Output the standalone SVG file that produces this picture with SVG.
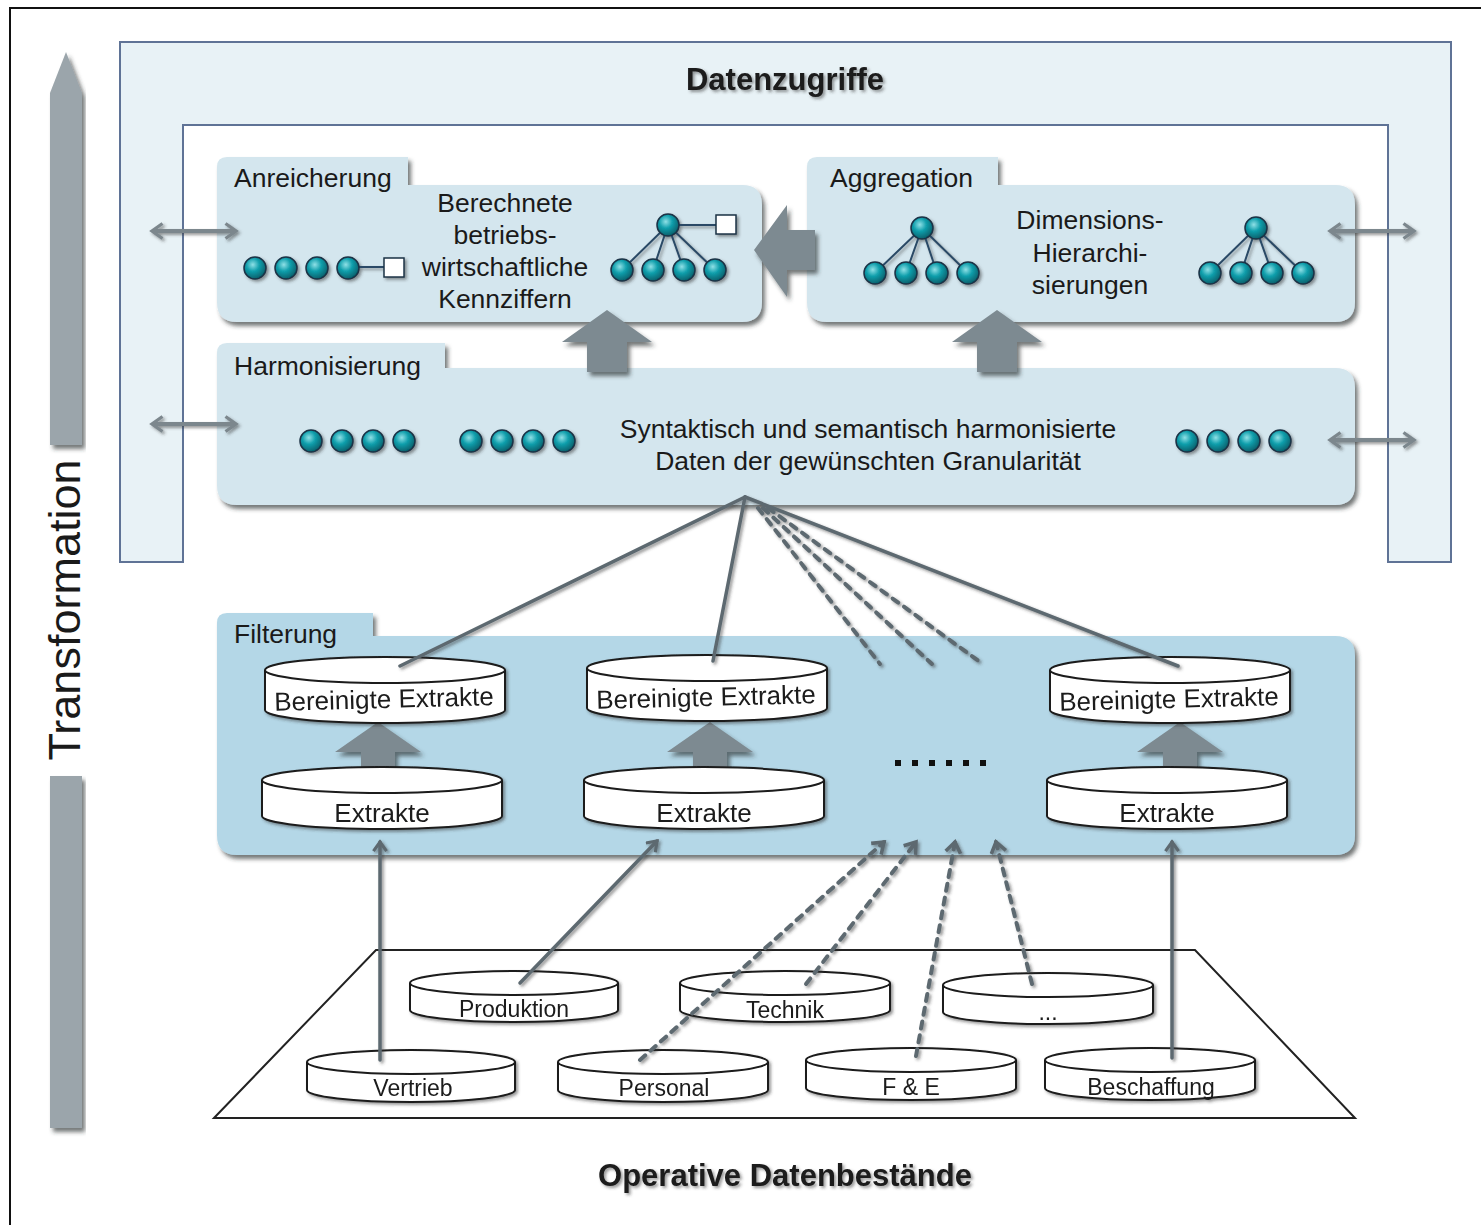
<svg xmlns="http://www.w3.org/2000/svg" width="1481" height="1225" viewBox="0 0 1481 1225">
<defs>
<style>
text{font-family:"Liberation Sans",Arial,sans-serif;fill:#1a1a1a}
.lbl{font-size:26.5px}
.mid{font-size:26.5px;text-anchor:middle}
.cyl{font-size:26px;text-anchor:middle}
.db{font-size:23px;text-anchor:middle}
.title{font-size:31px;font-weight:bold;text-anchor:middle}
.box{fill:#d4e6ee}
.fbox{fill:#b4d7e7}
.dot{fill:url(#tg);stroke:#1b3346;stroke-width:1.5}
.sq{fill:#fff;stroke:#1b3346;stroke-width:1.5}
.tl{stroke:#2a4a66;stroke-width:2;fill:none}
.big{fill:#7d8a91}
.cb{fill:#fff;stroke:#1a1a1a;stroke-width:2}
.sol{stroke:#5d6970;stroke-width:3.5;fill:none;stroke-linecap:round}
.dsh{stroke:#5d6970;stroke-width:4;fill:none;stroke-dasharray:7 7;stroke-linecap:round}
.dbl{stroke:#7c878d;stroke-width:4;fill:none;marker-start:url(#chev);marker-end:url(#chev)}
</style>
<radialGradient id="tg" cx="40%" cy="35%" r="65%">
<stop offset="0" stop-color="#8fe0e6"/>
<stop offset="0.45" stop-color="#12a0ad"/>
<stop offset="1" stop-color="#05606c"/>
</radialGradient>
<filter id="sh" x="-5%" y="-10%" width="115%" height="130%">
<feDropShadow dx="3" dy="4" stdDeviation="2" flood-color="#2a2f33" flood-opacity="0.65"/>
</filter>
<filter id="ls" x="-20%" y="-20%" width="140%" height="140%">
<feDropShadow dx="2" dy="2" stdDeviation="1.5" flood-color="#333" flood-opacity="0.5"/>
</filter>
<marker id="chev" viewBox="0 0 10 12" refX="8" refY="6" markerWidth="4" markerHeight="4.5" orient="auto-start-reverse" markerUnits="strokeWidth">
<path d="M1,1 L8,6 L1,11" fill="none" stroke="#7c878d" stroke-width="2.2"/>
</marker>
<marker id="up" viewBox="0 0 10 12" refX="8" refY="6" markerWidth="4" markerHeight="4.5" orient="auto" markerUnits="strokeWidth">
<path d="M1,1 L8,6 L1,11" fill="none" stroke="#5d6970" stroke-width="2.4"/>
</marker>
</defs>

<rect x="10" y="8" width="1480" height="1230" fill="#fff" stroke="#111" stroke-width="2"/>

<g id="transformation">
<path d="M50,93 L66,52 L82,93 L82,445 L50,445 Z" fill="#9ba5ab" filter="url(#sh)"/>
<rect x="50" y="776" width="32" height="352" fill="#9ba5ab" filter="url(#sh)"/>
<text transform="translate(80,610) rotate(-90)" style="font-size:45px;text-anchor:middle">Transformation</text>
</g>

<g id="datenzugriffe">
<path d="M120,42 L1451,42 L1451,562 L1388,562 L1388,125 L183,125 L183,562 L120,562 Z" fill="#e8f2f6" stroke="#5f7396" stroke-width="2"/>
<text x="785" y="90" class="title" filter="url(#ls)">Datenzugriffe</text>
</g>

<g id="anreicherung">
<path class="box" filter="url(#sh)" d="M217,167 Q217,157 227,157 L408,157 L408,185 L742,185 Q762,185 762,205 L762,302 Q762,322 742,322 L237,322 Q217,322 217,302 Z"/>
<text x="234" y="187" class="lbl">Anreicherung</text>
<text x="505" y="212" class="mid">Berechnete</text>
<text x="505" y="244" class="mid">betriebs-</text>
<text x="505" y="276" class="mid">wirtschaftliche</text>
<text x="505" y="308" class="mid">Kennziffern</text>
<g filter="url(#ls)">
<line x1="348" y1="267" x2="393" y2="267" class="tl"/>
<circle cx="255" cy="268" r="11" class="dot"/>
<circle cx="286" cy="268" r="11" class="dot"/>
<circle cx="317" cy="268" r="11" class="dot"/>
<circle cx="348" cy="268" r="11" class="dot"/>
<rect x="384" y="258" width="20" height="19" class="sq"/>
<path class="tl" d="M668,225 L622,270 M668,225 L653,270 M668,225 L684,270 M668,225 L715,270 M668,225 L726,225"/>
<circle cx="668" cy="225" r="11" class="dot"/>
<circle cx="622" cy="270" r="11" class="dot"/>
<circle cx="653" cy="270" r="11" class="dot"/>
<circle cx="684" cy="270" r="11" class="dot"/>
<circle cx="715" cy="270" r="11" class="dot"/>
<rect x="716" y="215" width="20" height="19" class="sq"/>
</g>
</g>

<g id="aggregation">
<path class="box" filter="url(#sh)" d="M807,167 Q807,157 817,157 L998,157 L998,185 L1335,185 Q1355,185 1355,205 L1355,302 Q1355,322 1335,322 L827,322 Q807,322 807,302 Z"/>
<text x="830" y="187" class="lbl">Aggregation</text>
<text x="1090" y="229" class="mid">Dimensions-</text>
<text x="1090" y="262" class="mid">Hierarchi-</text>
<text x="1090" y="294" class="mid">sierungen</text>
<g filter="url(#ls)">
<path class="tl" d="M922,228 L875,273 M922,228 L906,273 M922,228 L937,273 M922,228 L968,273"/>
<circle cx="922" cy="228" r="11" class="dot"/>
<circle cx="875" cy="273" r="11" class="dot"/>
<circle cx="906" cy="273" r="11" class="dot"/>
<circle cx="937" cy="273" r="11" class="dot"/>
<circle cx="968" cy="273" r="11" class="dot"/>
<path class="tl" d="M1256,228 L1210,273 M1256,228 L1241,273 M1256,228 L1272,273 M1256,228 L1303,273"/>
<circle cx="1256" cy="228" r="11" class="dot"/>
<circle cx="1210" cy="273" r="11" class="dot"/>
<circle cx="1241" cy="273" r="11" class="dot"/>
<circle cx="1272" cy="273" r="11" class="dot"/>
<circle cx="1303" cy="273" r="11" class="dot"/>
</g>
</g>

<g id="harmonisierung">
<path class="box" filter="url(#sh)" d="M217,353 Q217,343 227,343 L445,343 L445,368 L1335,368 Q1355,368 1355,388 L1355,485 Q1355,505 1335,505 L237,505 Q217,505 217,485 Z"/>
<text x="234" y="375" class="lbl">Harmonisierung</text>
<text x="868" y="438" class="mid">Syntaktisch und semantisch harmonisierte</text>
<text x="868" y="470" class="mid">Daten der gewünschten Granularität</text>
<g filter="url(#ls)">
<circle cx="311" cy="441" r="11" class="dot"/>
<circle cx="342" cy="441" r="11" class="dot"/>
<circle cx="373" cy="441" r="11" class="dot"/>
<circle cx="404" cy="441" r="11" class="dot"/>
<circle cx="471" cy="441" r="11" class="dot"/>
<circle cx="502" cy="441" r="11" class="dot"/>
<circle cx="533" cy="441" r="11" class="dot"/>
<circle cx="564" cy="441" r="11" class="dot"/>
<circle cx="1187" cy="441" r="11" class="dot"/>
<circle cx="1218" cy="441" r="11" class="dot"/>
<circle cx="1249" cy="441" r="11" class="dot"/>
<circle cx="1280" cy="441" r="11" class="dot"/>
</g>
</g>

<g id="big-arrows" filter="url(#sh)">
<path class="big" d="M607,310 L652,342 L627,342 L627,372 L587,372 L587,342 L562,342 Z"/>
<path class="big" d="M997,310 L1042,342 L1017,342 L1017,372 L977,372 L977,342 L952,342 Z"/>
<path class="big" d="M754,250 L787,205 L787,230 L815,230 L815,270 L787,270 L787,297 Z"/>
</g>

<g id="filterung">
<path class="fbox" filter="url(#sh)" d="M217,623 Q217,613 227,613 L373,613 L373,636 L1335,636 Q1355,636 1355,656 L1355,835 Q1355,855 1335,855 L237,855 Q217,855 217,835 Z"/>
<text x="234" y="643" class="lbl">Filterung</text>
<g fill="#111">
<rect x="895" y="760" width="6" height="6"/><rect x="912" y="760" width="6" height="6"/><rect x="929" y="760" width="6" height="6"/><rect x="946" y="760" width="6" height="6"/><rect x="963" y="760" width="6" height="6"/><rect x="980" y="760" width="6" height="6"/>
</g>
</g>

<g id="filter-arrows" filter="url(#sh)">
<path class="big" d="M378,722 L421,752 L395,752 L395,772 L361,772 L361,752 L335,752 Z"/>
<path class="big" d="M710,722 L753,752 L727,752 L727,772 L693,772 L693,752 L667,752 Z"/>
<path class="big" d="M1180,722 L1223,752 L1197,752 L1197,772 L1163,772 L1163,752 L1137,752 Z"/>
</g>

<g id="cyl-extrakte-1" filter="url(#ls)">
<path class="cb" d="M262,780 L262,816 A120,13 0 0 0 502,816 L502,780"/>
<ellipse cx="382" cy="780" rx="120" ry="13" class="cb"/>
<text x="382" y="822" class="cyl">Extrakte</text>
</g>
<g id="cyl-extrakte-2" filter="url(#ls)">
<path class="cb" d="M584,780 L584,816 A120,13 0 0 0 824,816 L824,780"/>
<ellipse cx="704" cy="780" rx="120" ry="13" class="cb"/>
<text x="704" y="822" class="cyl">Extrakte</text>
</g>
<g id="cyl-extrakte-3" filter="url(#ls)">
<path class="cb" d="M1047,780 L1047,816 A120,13 0 0 0 1287,816 L1287,780"/>
<ellipse cx="1167" cy="780" rx="120" ry="13" class="cb"/>
<text x="1167" y="822" class="cyl">Extrakte</text>
</g>

<g id="cyl-bereinigt-1" filter="url(#ls)">
<path class="cb" d="M265,670 L265,710 A120,13 0 0 0 505,710 L505,670"/>
<ellipse cx="385" cy="670" rx="120" ry="13" class="cb"/>
<text x="384" y="708" class="cyl" transform="rotate(-1.5 384 700)">Bereinigte Extrakte</text>
</g>
<g id="cyl-bereinigt-2" filter="url(#ls)">
<path class="cb" d="M587,668 L587,708 A120,13 0 0 0 827,708 L827,668"/>
<ellipse cx="707" cy="668" rx="120" ry="13" class="cb"/>
<text x="706" y="706" class="cyl" transform="rotate(-1.5 706 698)">Bereinigte Extrakte</text>
</g>
<g id="cyl-bereinigt-3" filter="url(#ls)">
<path class="cb" d="M1050,670 L1050,710 A120,13 0 0 0 1290,710 L1290,670"/>
<ellipse cx="1170" cy="670" rx="120" ry="13" class="cb"/>
<text x="1169" y="708" class="cyl" transform="rotate(-1.5 1169 700)">Bereinigte Extrakte</text>
</g>

<g id="operative">
<polygon points="214,1118 376,950 1195,950 1355,1118" fill="#fff" stroke="#222" stroke-width="2"/>
<text x="785" y="1186" class="title" filter="url(#ls)">Operative Datenbestände</text>
</g>

<g id="db-produktion" filter="url(#ls)">
<path class="cb" d="M410,983 L410,1010 A104,12 0 0 0 618,1010 L618,983"/>
<ellipse cx="514" cy="983" rx="104" ry="12" class="cb"/>
<text x="514" y="1017" class="db">Produktion</text>
</g>
<g id="db-technik" filter="url(#ls)">
<path class="cb" d="M680,983 L680,1010 A105,12 0 0 0 890,1010 L890,983"/>
<ellipse cx="785" cy="983" rx="105" ry="12" class="cb"/>
<text x="785" y="1018" class="db">Technik</text>
</g>
<g id="db-more" filter="url(#ls)">
<path class="cb" d="M943,985 L943,1012 A105,12 0 0 0 1153,1012 L1153,985"/>
<ellipse cx="1048" cy="985" rx="105" ry="12" class="cb"/>
<text x="1048" y="1020" class="db">...</text>
</g>
<g id="db-vertrieb" filter="url(#ls)">
<path class="cb" d="M307,1062 L307,1090 A104,12 0 0 0 515,1090 L515,1062"/>
<ellipse cx="411" cy="1062" rx="104" ry="12" class="cb"/>
<text x="413" y="1096" class="db">Vertrieb</text>
</g>
<g id="db-personal" filter="url(#ls)">
<path class="cb" d="M558,1062 L558,1090 A105,12 0 0 0 768,1090 L768,1062"/>
<ellipse cx="663" cy="1062" rx="105" ry="12" class="cb"/>
<text x="664" y="1096" class="db">Personal</text>
</g>
<g id="db-fe" filter="url(#ls)">
<path class="cb" d="M806,1060 L806,1088 A105,12 0 0 0 1016,1088 L1016,1060"/>
<ellipse cx="911" cy="1060" rx="105" ry="12" class="cb"/>
<text x="911" y="1095" class="db">F &amp; E</text>
</g>
<g id="db-beschaffung" filter="url(#ls)">
<path class="cb" d="M1045,1060 L1045,1088 A105,12 0 0 0 1255,1088 L1255,1060"/>
<ellipse cx="1150" cy="1060" rx="105" ry="12" class="cb"/>
<text x="1151" y="1095" class="db">Beschaffung</text>
</g>

<g id="connectors" filter="url(#ls)">
<line class="dbl" x1="152" y1="231" x2="236" y2="231"/>
<line class="dbl" x1="152" y1="424" x2="236" y2="424"/>
<line class="dbl" x1="1330" y1="231" x2="1414" y2="231"/>
<line class="dbl" x1="1330" y1="440" x2="1414" y2="440"/>
<line class="sol" x1="745" y1="497" x2="400" y2="666"/>
<line class="sol" x1="745" y1="497" x2="713" y2="661"/>
<line class="sol" x1="745" y1="497" x2="1178" y2="666"/>
<line class="dsh" x1="758" y1="508" x2="880" y2="664"/>
<line class="dsh" x1="763" y1="508" x2="932" y2="664"/>
<line class="dsh" x1="768" y1="508" x2="980" y2="662"/>
<line class="sol" x1="380" y1="1060" x2="380" y2="842" marker-end="url(#up)"/>
<line class="sol" x1="520" y1="983" x2="657" y2="841" marker-end="url(#up)"/>
<line class="sol" x1="1172" y1="1058" x2="1172" y2="842" marker-end="url(#up)"/>
<line class="dsh" x1="640" y1="1060" x2="884" y2="842" marker-end="url(#up)"/>
<line class="dsh" x1="806" y1="984" x2="916" y2="842" marker-end="url(#up)"/>
<line class="dsh" x1="916" y1="1056" x2="955" y2="842" marker-end="url(#up)"/>
<line class="dsh" x1="1032" y1="984" x2="996" y2="842" marker-end="url(#up)"/>
</g>
</svg>
